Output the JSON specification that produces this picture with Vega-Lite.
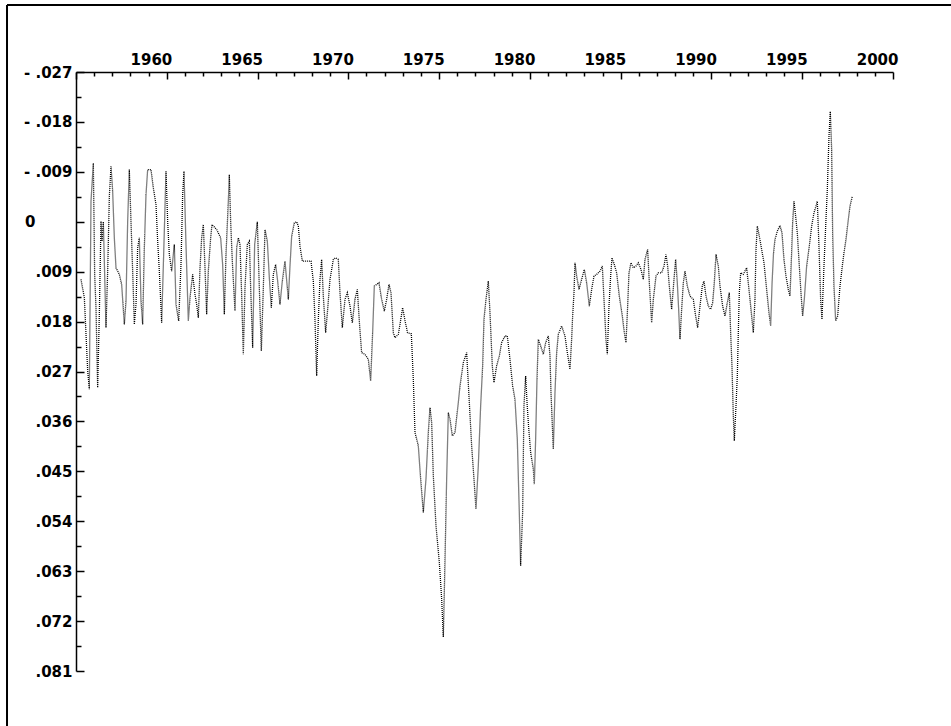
{
"$schema": "https://vega.github.io/schema/vega-lite/v6.json",
"width": 817, "height": 599,
"autosize": "none",
"padding": {"left": 76, "top": 72, "right": 58, "bottom": 55},
"background": "white",
"config": {"view": {"stroke": null}, "axis": {"labelFont": "DejaVu Sans", "labelFontWeight": "bold", "labelFontSize": 15, "labelColor": "black", "domainColor": "black", "tickColor": "black", "domainWidth": 1.5, "tickWidth": 1.5, "grid": false, "title": null, "labelOverlap": false, "labelBound": false, "labelFlush": false, "tickCount": 200}},
"datasets": {"series": [
{"year":1955.275,"value":0.0104},{"year":1955.459,"value":0.0137},{"year":1955.551,"value":0.0203},{"year":1955.643,"value":0.0269},{"year":1955.734,"value":0.0302},{"year":1955.826,"value":-0.0037},{"year":1955.955,"value":-0.0106},{"year":1956.028,"value":0.0095},{"year":1956.101,"value":0.0155},{"year":1956.193,"value":0.0299},{"year":1956.285,"value":0.0167},{"year":1956.377,"value":-0.0001},{"year":1956.432,"value":0.0035},{"year":1956.505,"value":0},{"year":1956.652,"value":0.0191},{"year":1956.744,"value":0.0089},{"year":1956.836,"value":-0.0046},{"year":1956.928,"value":-0.01},{"year":1957.019,"value":-0.0055},{"year":1957.111,"value":0.0029},{"year":1957.203,"value":0.0083},{"year":1957.387,"value":0.0095},{"year":1957.515,"value":0.0113},{"year":1957.662,"value":0.0185},{"year":1957.754,"value":0.0143},{"year":1957.846,"value":-0.0001},{"year":1957.937,"value":-0.0094},{"year":1958.029,"value":0},{"year":1958.121,"value":0.0089},{"year":1958.213,"value":0.0185},{"year":1958.305,"value":0.0149},{"year":1958.396,"value":0.0047},{"year":1958.488,"value":0.0029},{"year":1958.58,"value":0.0143},{"year":1958.672,"value":0.0185},{"year":1958.764,"value":0.0047},{"year":1958.855,"value":-0.0049},{"year":1958.947,"value":-0.0094},{"year":1959.131,"value":-0.0094},{"year":1959.259,"value":-0.0061},{"year":1959.406,"value":-0.0031},{"year":1959.498,"value":0.0035},{"year":1959.59,"value":0.0089},{"year":1959.718,"value":0.0182},{"year":1959.828,"value":0.0059},{"year":1959.957,"value":-0.0091},{"year":1960.049,"value":0},{"year":1960.14,"value":0.0059},{"year":1960.269,"value":0.0089},{"year":1960.416,"value":0.0041},{"year":1960.508,"value":0.0149},{"year":1960.655,"value":0.0179},{"year":1960.783,"value":0.0077},{"year":1960.875,"value":-0.0049},{"year":1960.948,"value":-0.0091},{"year":1961.058,"value":0.0041},{"year":1961.187,"value":0.0179},{"year":1961.279,"value":0.0137},{"year":1961.426,"value":0.0095},{"year":1961.554,"value":0.0131},{"year":1961.646,"value":0.0149},{"year":1961.738,"value":0.0173},{"year":1961.83,"value":0.0083},{"year":1961.921,"value":0.0029},{"year":1962.013,"value":0.0005},{"year":1962.105,"value":0.0083},{"year":1962.197,"value":0.0167},{"year":1962.288,"value":0.0089},{"year":1962.417,"value":0.0029},{"year":1962.49,"value":0.0005},{"year":1962.747,"value":0.0014},{"year":1962.968,"value":0.0029},{"year":1963.078,"value":0.0077},{"year":1963.17,"value":0.0167},{"year":1963.262,"value":0.0059},{"year":1963.39,"value":-0.0037},{"year":1963.445,"value":-0.0085},{"year":1963.519,"value":0},{"year":1963.61,"value":0.0071},{"year":1963.757,"value":0.0161},{"year":1963.849,"value":0.0047},{"year":1963.941,"value":0.0029},{"year":1964.033,"value":0.0041},{"year":1964.124,"value":0.0131},{"year":1964.216,"value":0.0239},{"year":1964.308,"value":0.0119},{"year":1964.436,"value":0.0041},{"year":1964.55,"value":0.0035},{"year":1964.62,"value":0.0119},{"year":1964.73,"value":0.0227},{"year":1964.84,"value":0.0041},{"year":1964.987,"value":0},{"year":1965.097,"value":0.0119},{"year":1965.208,"value":0.0233},{"year":1965.318,"value":0.0119},{"year":1965.41,"value":0.0014},{"year":1965.538,"value":0.0035},{"year":1965.648,"value":0.0101},{"year":1965.758,"value":0.0155},{"year":1965.868,"value":0.0095},{"year":1965.997,"value":0.0077},{"year":1966.107,"value":0.0107},{"year":1966.235,"value":0.0149},{"year":1966.364,"value":0.0107},{"year":1966.511,"value":0.0071},{"year":1966.695,"value":0.014},{"year":1966.786,"value":0.008},{"year":1966.878,"value":0.0026},{"year":1967.025,"value":0.0002},{"year":1967.154,"value":0},{"year":1967.245,"value":0.0008},{"year":1967.337,"value":0.0044},{"year":1967.466,"value":0.0071},{"year":1967.704,"value":0.0071},{"year":1967.943,"value":0.0071},{"year":1968.071,"value":0.0107},{"year":1968.163,"value":0.0176},{"year":1968.255,"value":0.0278},{"year":1968.347,"value":0.0176},{"year":1968.439,"value":0.0104},{"year":1968.53,"value":0.0068},{"year":1968.622,"value":0.0134},{"year":1968.751,"value":0.02},{"year":1968.861,"value":0.0158},{"year":1968.989,"value":0.0104},{"year":1969.173,"value":0.0068},{"year":1969.302,"value":0.0065},{"year":1969.448,"value":0.0068},{"year":1969.54,"value":0.0128},{"year":1969.669,"value":0.0191},{"year":1969.816,"value":0.014},{"year":1969.944,"value":0.0128},{"year":1970.091,"value":0.0152},{"year":1970.219,"value":0.0182},{"year":1970.366,"value":0.014},{"year":1970.495,"value":0.0122},{"year":1970.623,"value":0.0188},{"year":1970.733,"value":0.0236},{"year":1970.917,"value":0.0239},{"year":1971.101,"value":0.0248},{"year":1971.229,"value":0.0287},{"year":1971.339,"value":0.02},{"year":1971.431,"value":0.0116},{"year":1971.56,"value":0.0113},{"year":1971.688,"value":0.011},{"year":1971.835,"value":0.014},{"year":1971.982,"value":0.0161},{"year":1972.11,"value":0.014},{"year":1972.239,"value":0.0113},{"year":1972.349,"value":0.0128},{"year":1972.478,"value":0.02},{"year":1972.569,"value":0.0209},{"year":1972.753,"value":0.0203},{"year":1972.845,"value":0.0185},{"year":1972.99,"value":0.0155},{"year":1973.12,"value":0.0178},{"year":1973.26,"value":0.02},{"year":1973.47,"value":0.0202},{"year":1973.579,"value":0.0284},{"year":1973.671,"value":0.038},{"year":1973.855,"value":0.0404},{"year":1973.983,"value":0.0464},{"year":1974.13,"value":0.0524},{"year":1974.277,"value":0.0464},{"year":1974.405,"value":0.038},{"year":1974.497,"value":0.0335},{"year":1974.589,"value":0.0362},{"year":1974.681,"value":0.0458},{"year":1974.828,"value":0.0548},{"year":1975.011,"value":0.0614},{"year":1975.14,"value":0.068},{"year":1975.232,"value":0.0749},{"year":1975.323,"value":0.0614},{"year":1975.415,"value":0.0464},{"year":1975.507,"value":0.0344},{"year":1975.599,"value":0.0356},{"year":1975.727,"value":0.0386},{"year":1975.874,"value":0.038},{"year":1976.058,"value":0.0326},{"year":1976.15,"value":0.0296},{"year":1976.333,"value":0.0254},{"year":1976.517,"value":0.0236},{"year":1976.645,"value":0.0314},{"year":1976.792,"value":0.0404},{"year":1976.921,"value":0.0464},{"year":1977.031,"value":0.0518},{"year":1977.159,"value":0.044},{"year":1977.288,"value":0.0332},{"year":1977.398,"value":0.026},{"year":1977.471,"value":0.0176},{"year":1977.581,"value":0.014},{"year":1977.71,"value":0.0107},{"year":1977.802,"value":0.0164},{"year":1977.93,"value":0.026},{"year":1978.022,"value":0.029},{"year":1978.169,"value":0.026},{"year":1978.316,"value":0.0242},{"year":1978.444,"value":0.0218},{"year":1978.628,"value":0.0206},{"year":1978.756,"value":0.0206},{"year":1978.903,"value":0.0248},{"year":1979.05,"value":0.0296},{"year":1979.178,"value":0.032},{"year":1979.307,"value":0.0392},{"year":1979.417,"value":0.0524},{"year":1979.49,"value":0.062},{"year":1979.601,"value":0.0524},{"year":1979.674,"value":0.0332},{"year":1979.766,"value":0.0278},{"year":1979.85,"value":0.033},{"year":1979.93,"value":0.037},{"year":1980.042,"value":0.0416},{"year":1980.189,"value":0.0446},{"year":1980.244,"value":0.0473},{"year":1980.317,"value":0.0392},{"year":1980.391,"value":0.0284},{"year":1980.464,"value":0.0212},{"year":1980.593,"value":0.0224},{"year":1980.74,"value":0.0239},{"year":1980.868,"value":0.0218},{"year":1981.015,"value":0.0206},{"year":1981.107,"value":0.0242},{"year":1981.162,"value":0.0308},{"year":1981.29,"value":0.041},{"year":1981.382,"value":0.0308},{"year":1981.474,"value":0.0236},{"year":1981.566,"value":0.0203},{"year":1981.749,"value":0.0188},{"year":1981.933,"value":0.0206},{"year":1982.062,"value":0.0236},{"year":1982.208,"value":0.0266},{"year":1982.3,"value":0.0212},{"year":1982.355,"value":0.017},{"year":1982.429,"value":0.0128},{"year":1982.484,"value":0.0074},{"year":1982.576,"value":0.0098},{"year":1982.704,"value":0.0122},{"year":1982.851,"value":0.0104},{"year":1982.998,"value":0.0086},{"year":1983.126,"value":0.011},{"year":1983.273,"value":0.0152},{"year":1983.402,"value":0.0122},{"year":1983.53,"value":0.0098},{"year":1983.677,"value":0.0095},{"year":1983.861,"value":0.0089},{"year":1983.989,"value":0.008},{"year":1984.1,"value":0.0152},{"year":1984.191,"value":0.0212},{"year":1984.265,"value":0.0239},{"year":1984.357,"value":0.0152},{"year":1984.448,"value":0.0098},{"year":1984.522,"value":0.0065},{"year":1984.65,"value":0.0077},{"year":1984.779,"value":0.0092},{"year":1984.925,"value":0.0134},{"year":1985.091,"value":0.017},{"year":1985.201,"value":0.02},{"year":1985.293,"value":0.0218},{"year":1985.385,"value":0.0152},{"year":1985.458,"value":0.0092},{"year":1985.568,"value":0.0074},{"year":1985.697,"value":0.0083},{"year":1985.844,"value":0.008},{"year":1985.972,"value":0.0074},{"year":1986.119,"value":0.0086},{"year":1986.247,"value":0.0104},{"year":1986.339,"value":0.0068},{"year":1986.486,"value":0.005},{"year":1986.578,"value":0.011},{"year":1986.707,"value":0.0182},{"year":1986.799,"value":0.014},{"year":1986.946,"value":0.0098},{"year":1987.074,"value":0.0092},{"year":1987.258,"value":0.0092},{"year":1987.386,"value":0.008},{"year":1987.496,"value":0.0059},{"year":1987.588,"value":0.008},{"year":1987.68,"value":0.0116},{"year":1987.753,"value":0.014},{"year":1987.808,"value":0.0158},{"year":1987.937,"value":0.0104},{"year":1988.029,"value":0.0068},{"year":1988.12,"value":0.011},{"year":1988.194,"value":0.0158},{"year":1988.267,"value":0.0212},{"year":1988.359,"value":0.0158},{"year":1988.451,"value":0.011},{"year":1988.543,"value":0.0089},{"year":1988.671,"value":0.0116},{"year":1988.818,"value":0.0134},{"year":1989.002,"value":0.014},{"year":1989.13,"value":0.017},{"year":1989.24,"value":0.0191},{"year":1989.369,"value":0.0152},{"year":1989.497,"value":0.0116},{"year":1989.589,"value":0.0107},{"year":1989.699,"value":0.0134},{"year":1989.828,"value":0.0152},{"year":1989.956,"value":0.0158},{"year":1990.066,"value":0.0146},{"year":1990.158,"value":0.011},{"year":1990.25,"value":0.0059},{"year":1990.379,"value":0.008},{"year":1990.47,"value":0.0116},{"year":1990.617,"value":0.0152},{"year":1990.746,"value":0.017},{"year":1990.874,"value":0.0146},{"year":1990.984,"value":0.0128},{"year":1991.058,"value":0.02},{"year":1991.131,"value":0.026},{"year":1991.205,"value":0.035},{"year":1991.26,"value":0.0395},{"year":1991.352,"value":0.0332},{"year":1991.425,"value":0.0278},{"year":1991.48,"value":0.02},{"year":1991.535,"value":0.0128},{"year":1991.609,"value":0.0092},{"year":1991.756,"value":0.0095},{"year":1991.939,"value":0.0083},{"year":1992.086,"value":0.0128},{"year":1992.215,"value":0.017},{"year":1992.306,"value":0.02},{"year":1992.398,"value":0.014},{"year":1992.453,"value":0.005},{"year":1992.527,"value":0.0008},{"year":1992.637,"value":0.0026},{"year":1992.765,"value":0.005},{"year":1992.894,"value":0.0074},{"year":1993.04,"value":0.0122},{"year":1993.169,"value":0.0164},{"year":1993.261,"value":0.0188},{"year":1993.34,"value":0.011},{"year":1993.42,"value":0.0056},{"year":1993.5,"value":0.0032},{"year":1993.628,"value":0.0017},{"year":1993.775,"value":0.0007},{"year":1993.885,"value":0.002},{"year":1993.995,"value":0.0068},{"year":1994.105,"value":0.0098},{"year":1994.234,"value":0.0122},{"year":1994.326,"value":0.0134},{"year":1994.417,"value":0.0056},{"year":1994.472,"value":0.0002},{"year":1994.546,"value":-0.0037},{"year":1994.619,"value":-0.0016},{"year":1994.729,"value":0.002},{"year":1994.84,"value":0.008},{"year":1994.931,"value":0.0128},{"year":1995.023,"value":0.017},{"year":1995.115,"value":0.014},{"year":1995.243,"value":0.008},{"year":1995.39,"value":0.0044},{"year":1995.519,"value":0.0008},{"year":1995.647,"value":-0.0016},{"year":1995.757,"value":-0.0028},{"year":1995.831,"value":-0.0037},{"year":1995.923,"value":0.0044},{"year":1996.014,"value":0.014},{"year":1996.088,"value":0.0176},{"year":1996.198,"value":0.008},{"year":1996.308,"value":-0.0004},{"year":1996.382,"value":-0.0058},{"year":1996.474,"value":-0.0154},{"year":1996.547,"value":-0.0199},{"year":1996.621,"value":-0.013},{"year":1996.676,"value":0.002},{"year":1996.749,"value":0.0116},{"year":1996.841,"value":0.0179},{"year":1996.951,"value":0.017},{"year":1997.08,"value":0.0116},{"year":1997.208,"value":0.008},{"year":1997.3,"value":0.0056},{"year":1997.41,"value":0.0032},{"year":1997.539,"value":-0.0004},{"year":1997.63,"value":-0.0028},{"year":1997.759,"value":-0.0046}
]},
"layer": [
{"mark": {"type": "rule", "color": "black", "strokeWidth": 1, "strokeDash": [1, 1]}, "encoding": {"y": {"datum": 0, "type": "quantitative"}}},
{"data": {"name": "series"},
 "mark": {"type": "line", "color": "black", "strokeWidth": 1.3, "strokeDash": [1, 1], "interpolate": "linear"},
 "encoding": {
  "x": {"field": "year", "type": "quantitative",
   "scale": {"domain": [1955, 2000], "nice": false, "zero": false},
   "axis": {"orient": "top", "tickCount": 200, "values": [1955,1956,1957,1958,1959,1960,1961,1962,1963,1964,1965,1966,1967,1968,1969,1970,1971,1972,1973,1974,1975,1976,1977,1978,1979,1980,1981,1982,1983,1984,1985,1986,1987,1988,1989,1990,1991,1992,1993,1994,1995,1996,1997,1998,1999,2000],
    "format": "d",
    "labelExpr": "datum.value % 5 == 0 && datum.value > 1955 ? datum.label : ''",
    "labelAlign": "right", "labelOffset": 5, "labelPadding": 12,
    "tickSize": {"condition": {"test": "datum.value % 5 == 0", "value": -7}, "value": -4}}},
  "y": {"field": "value", "type": "quantitative",
   "scale": {"domain": [-0.027, 0.081], "reverse": true, "nice": false, "zero": false},
   "axis": {"orient": "left", "tickCount": 200, "values": [-0.027,-0.0225,-0.018,-0.0135,-0.009,-0.0045,0,0.0045,0.009,0.0135,0.018,0.0225,0.027,0.0315,0.036,0.0405,0.045,0.0495,0.054,0.0585,0.063,0.0675,0.072,0.0765,0.081],
    "labelExpr": "abs(round(datum.value*2000)) % 18 != 0 ? '' : (abs(datum.value) < 0.0001 ? '0' : (datum.value < 0 ? '- ' : '') + replace(format(abs(datum.value), '.3f'), '0.', '.'))",
    "labelPadding": {"condition": {"test": "abs(datum.value) < 0.0001", "value": 49}, "value": 12},
    "tickSize": {"condition": {"test": "abs(round(datum.value*2000)) % 18 == 0", "value": -8}, "value": -5}}}
 }},
{"data": {"values": [{}]}, "mark": {"type": "rule", "color": "black", "strokeWidth": 2, "clip": false},
 "encoding": {"x": {"datum": 1951.2, "type": "quantitative"}, "x2": {"datum": 2004}, "y": {"datum": -0.03908, "type": "quantitative"}}},
{"data": {"values": [{}]}, "mark": {"type": "rule", "color": "black", "strokeWidth": 2, "clip": false},
 "encoding": {"x": {"datum": 1951.2, "type": "quantitative"}, "y": {"datum": -0.03908, "type": "quantitative"}, "y2": {"datum": 0.093}}}
]
}
